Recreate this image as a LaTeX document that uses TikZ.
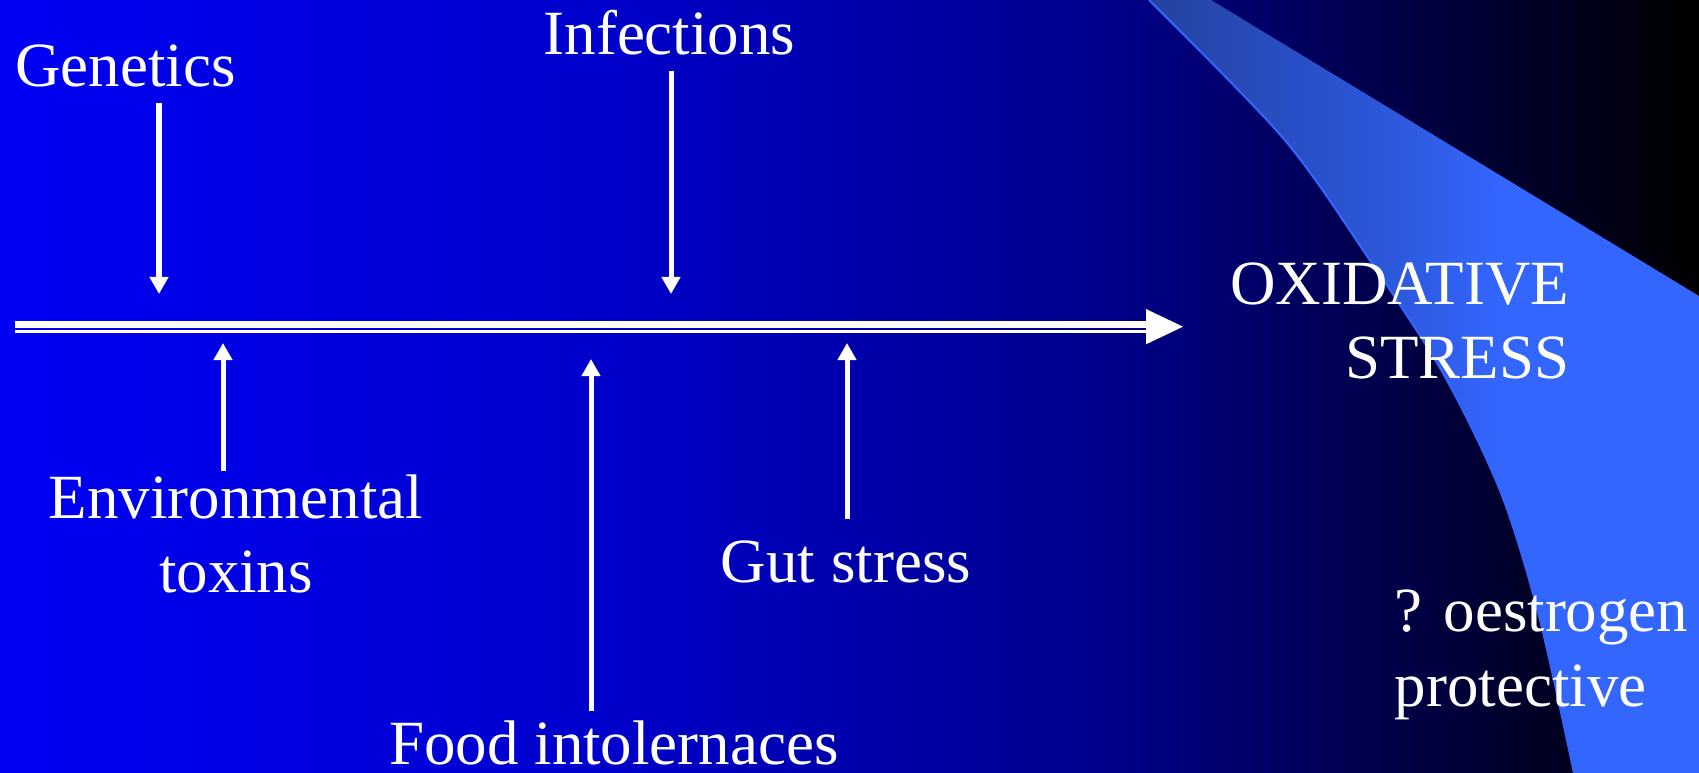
\documentclass[tikz,border=0pt]{standalone}
\usepackage{fontspec}
\setmainfont{Liberation Serif}
\usetikzlibrary{arrows.meta}

\pgfdeclarehorizontalshading{slideback}{100bp}{rgb(0bp)=(0,0,0.96); rgb(25bp)=(0,0,0.96); rgb(42.5bp)=(0,0,0.80); rgb(57.4bp)=(0,0,0.55); rgb(75bp)=(0,0,0); rgb(100bp)=(0,0,0)}
\pgfdeclarehorizontalshading{swoosh}{100bp}{rgb(0bp)=(0.14,0.26,0.62); rgb(25bp)=(0.14,0.26,0.62); rgb(38.7bp)=(0.16,0.31,0.78); rgb(47.8bp)=(0.18,0.35,0.87); rgb(57bp)=(0.2,0.4,1); rgb(100bp)=(0.2,0.4,1)}
\definecolor{swooshblue}{RGB}{51,102,255}

\begin{document}
\begin{tikzpicture}[
    x=0.01cm, y=-0.01cm,
    every node/.style={text=white,inner sep=0pt,font=\fontsize{17.9}{21.3}\selectfont},
    factor/.style={draw=white,line width=0.05cm,-{Triangle[length=0.17cm,width=0.18cm]}}
]
    \useasboundingbox (0,0) rectangle (1699,773);
    \shade[shading=slideback] (0,0) rectangle (1699,773);

    \shade[shading=swoosh]
        plot[smooth] coordinates {(1149,0) (1283,138) (1367,256) (1444,375) (1501,493) (1539,616) (1574,773)}
        -- (1699,773) -- (1699,296) -- (1211,0) -- cycle;
    \draw[swooshblue,line width=0.02cm]
        plot[smooth] coordinates {(1149,0) (1283,138) (1367,256) (1444,375) (1501,493) (1539,616) (1574,773)};

    \node[anchor=base] (genetics) at (125.5,87) {Genetics};
    \node[anchor=base] (infections) at (669.5,55) {Infections};
    \node[anchor=base,align=center] (toxins) at (236,593) {Environmental\\toxins};
    \node[anchor=base] (food) at (614,764) {Food intolernaces};
    \node[anchor=base] (gut) at (846,583) {Gut stress};
    \node[anchor=base east,align=right] (oxstress) at (1570,379) {OXIDATIVE\\STRESS};
    \node[anchor=base west,align=left] (oestrogen) at (1394,706) {? oestrogen\\protective};

    \coordinate (genetics-a) at (159,103);
    \coordinate (genetics-b) at (159,294);
    \coordinate (infections-a) at (671,71);
    \coordinate (infections-b) at (671,294);
    \coordinate (toxins-a) at (223,471);
    \coordinate (toxins-b) at (223,343);
    \coordinate (food-a) at (591,711);
    \coordinate (food-b) at (591,359);
    \coordinate (gut-a) at (847,519);
    \coordinate (gut-b) at (847,343);

    \draw[factor] (genetics-a) -- (genetics-b);
    \draw[factor] (infections-a) -- (infections-b);
    \draw[factor] (toxins-a) -- (toxins-b);
    \draw[factor] (food-a) -- (food-b);
    \draw[factor] (gut-a) -- (gut-b);

    % main axis: thick and thin line, then the head
    \coordinate (axis-a) at (15,324.7);
    \coordinate (axis-b) at (1147,324.7);
    \coordinate (axis-c) at (15,331.5);
    \coordinate (axis-d) at (1147,331.5);
    \draw[white,line width=0.073cm] (axis-a) -- (axis-b);
    \draw[white,line width=0.024cm] (axis-c) -- (axis-d);
    \fill[white] (1146,309) -- (1183,326.7) -- (1146,344.3) -- cycle;
\end{tikzpicture}
\end{document}
